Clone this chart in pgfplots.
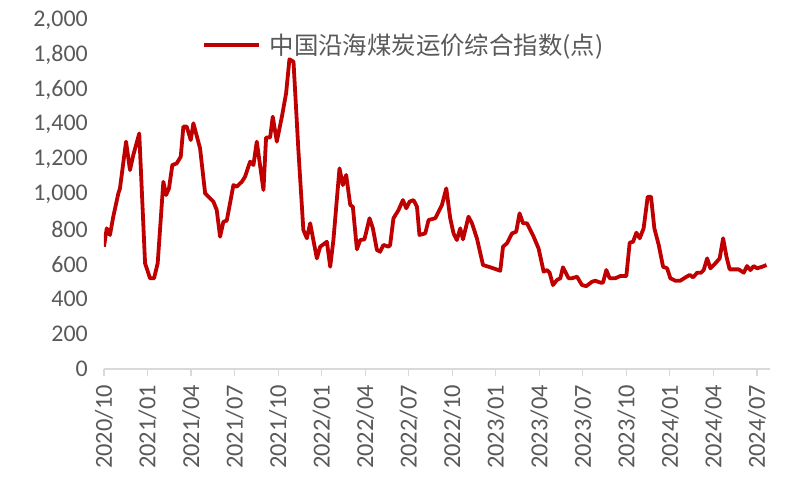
\documentclass[border=0pt]{standalone}
\usepackage{fontspec}
\setmainfont{Carlito}
\newfontfamily\cjk{Noto Sans CJK SC}
\usepackage{pgfplots}
\pgfplotsset{compat=1.18}
\definecolor{linered}{HTML}{C00000}
\definecolor{txtgray}{HTML}{595959}
\definecolor{axgray}{HTML}{D9D9D9}

\begin{document}
\begin{tikzpicture}
\begin{axis}[
    scale only axis,
    width=666bp, height=349bp,
    xmin=0, xmax=45.9,
    ymin=0, ymax=2000,
    axis lines*=left,
    x axis line style={axgray, line width=1.2bp},
    y axis line style={draw=none},
    xtick={0,3,...,45},
    xticklabels={2020/10,2021/01,2021/04,2021/07,2021/10,2022/01,2022/04,2022/07,2022/10,2023/01,2023/04,2023/07,2023/10,2024/01,2024/04,2024/07},
    ytick={0,200,...,2000},
    xtick align=outside,
    x tick style={axgray, line width=1.2bp},
    y tick style={draw=none},
    major tick length=7bp,
    yticklabel style={font=\fontsize{24}{24}\selectfont, text=txtgray,
        anchor=east, inner sep=0pt, xshift=-16bp},
    xticklabel style={font=\fontsize{24.5}{24.5}\selectfont, text=txtgray,
        yshift=-9bp, rotate=90, anchor=east, inner sep=0pt},
    /pgf/number format/.cd, 1000 sep={,}, assume math mode=true,
    /pgfplots/.cd,
    legend style={draw=none, fill=none, at={(0.45,0.928)}, anchor=center,
        font=\cjk\fontsize{24.5}{24.5}\selectfont, text=txtgray},
    legend image code/.code={\draw[#1] (0bp,0bp) -- (55bp,0bp); \path (62bp,0bp);},
]
\addplot[linered, line width=3.8bp, line join=round] coordinates {
(0.00,701)(0.19,806)(0.41,768)(0.64,873)(0.99,1007)(1.10,1035)(1.52,1303)(1.79,1140)
(2.02,1226)(2.43,1350)(2.83,606)(3.17,520)(3.45,520)(3.70,606)(4.09,1073)(4.28,997)
(4.48,1035)(4.71,1169)(5.01,1178)(5.29,1217)(5.47,1389)(5.70,1389)(5.98,1312)(6.16,1408)
(6.62,1265)(6.97,1007)(7.31,978)(7.54,959)(7.77,911)(8.00,758)(8.23,844)(8.46,850)
(8.92,1054)(9.15,1045)(9.50,1073)(9.72,1102)(10.07,1188)(10.30,1169)(10.53,1303)(10.99,1026)
(11.17,1327)(11.45,1327)(11.63,1446)(11.91,1303)(12.26,1446)(12.55,1580)(12.78,1775)(13.06,1761)
(13.40,1250)(13.74,797)(13.98,749)(14.21,835)(14.67,634)(14.90,701)(15.36,729)(15.59,586)
(15.81,739)(16.23,1150)(16.46,1054)(16.69,1112)(16.97,940)(17.15,930)(17.43,686)(17.66,739)
(17.95,743)(18.30,864)(18.53,806)(18.81,682)(19.03,672)(19.26,711)(19.61,701)(19.72,711)
(19.95,864)(20.30,911)(20.60,968)(20.83,921)(21.06,959)(21.33,968)(21.57,930)(21.74,768)
(22.14,777)(22.37,854)(22.83,864)(23.29,940)(23.59,1035)(23.86,864)(24.09,777)(24.32,739)
(24.55,806)(24.74,743)(25.12,873)(25.36,835)(25.70,749)(26.12,596)(26.50,586)(26.97,573)
(27.31,563)(27.50,701)(27.77,720)(28.12,777)(28.41,787)(28.64,892)(28.88,835)(29.15,835)
(29.61,758)(29.95,691)(30.30,558)(30.53,567)(30.71,552)(30.94,481)(31.22,510)(31.45,520)
(31.63,583)(32.02,520)(32.26,520)(32.60,529)(32.94,481)(33.24,475)(33.63,500)(33.86,506)
(34.21,495)(34.39,495)(34.62,567)(34.85,520)(35.24,520)(35.59,533)(36.00,533)(36.23,724)
(36.46,729)(36.69,781)(36.92,749)(37.19,806)(37.47,987)(37.70,987)(37.93,806)(38.23,711)
(38.53,586)(38.81,577)(39.03,520)(39.38,506)(39.72,506)(40.07,525)(40.37,539)(40.60,525)
(40.88,552)(41.15,552)(41.33,567)(41.57,634)(41.79,577)(42.14,606)(42.43,634)(42.67,749)
(42.90,644)(43.12,571)(43.74,571)(44.09,552)(44.32,590)(44.55,567)(44.78,590)(45.01,577)
(45.36,586)(45.66,596)
};
\addlegendentry{中国沿海煤炭运价综合指数(点)}
\end{axis}
\useasboundingbox (-104bp,-119bp) rectangle (696bp,369bp);
\end{tikzpicture}
\end{document}
